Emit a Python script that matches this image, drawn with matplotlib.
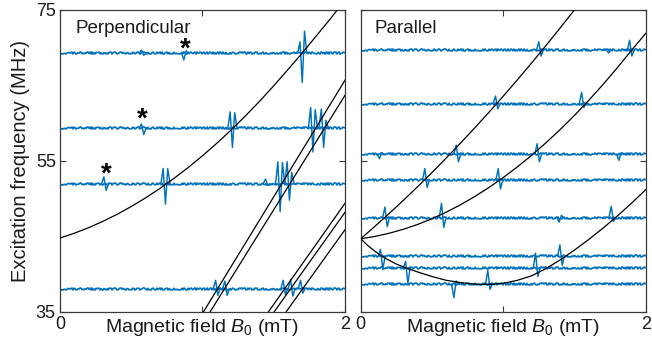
import matplotlib
matplotlib.use('Agg')
import matplotlib.pyplot as plt

plt.rcParams['font.family'] = ['Liberation Sans', 'DejaVu Sans']
plt.rcParams['mathtext.fontset'] = 'custom'
plt.rcParams['mathtext.it'] = 'Liberation Sans:italic'
plt.rcParams['mathtext.rm'] = 'Liberation Sans'

# ---------------- data ----------------
x_ticks = [0, 1, 2]
x_ticklabels = ['0', '', '2']
y_ticks = [35, 55, 75]
y_ticklabels = ['35', '55', '75']

# Perpendicular panel: trace baselines (MHz) and resonances (B0, excursions in MHz)
perp_levels = [69.3, 59.4, 52.0, 38.1]
perp_res = [
    [(0.58, [0.4, -0.3]), (0.877, [-0.9, 0.3]), (1.70, [1.5, -3.9, 2.9])],
    [(0.58, [0.5, -0.9]), (1.21, [2.1, -2.6, 2.0]), (1.775, [2.7, -3.2, 2.4]), (1.85, [2.5, -2.6, 1.0])],
    [(0.316, [0.9, -0.9]), (0.74, [2.0, -2.7, 2.0]), (1.45, [0.6, -0.2]), (1.545, [2.9, -3.7, 2.8]), (1.61, [2.9, -2.2, 1.5])],
    [(1.10, [1.1, -0.9]), (1.165, [1.0, -0.9]), (1.574, [1.1, -0.8]), (1.626, [1.2, -1.0]), (1.696, [1.1, -0.6])],
]
star_B = [0.877, 0.58, 0.323]
star_f = [70.4, 61.1, 53.8]

# Perpendicular panel theory lines
perp_curve_B = [0.0, 0.1, 0.2, 0.3, 0.4, 0.5, 0.6, 0.7, 0.8, 0.9, 1.0,
                1.1, 1.2, 1.3, 1.4, 1.5, 1.6, 1.7, 1.8, 1.9, 2.0]
perp_curve_f = [44.8, 45.43, 46.16, 47.00, 47.93, 48.97, 50.11, 51.35, 52.70, 54.14, 55.69,
                57.34, 59.09, 60.95, 62.90, 64.96, 67.12, 69.3, 71.6, 73.9, 76.3]
perp_lines_B = [[1.006, 2.0], [1.053, 2.0], [1.462, 2.0], [1.502, 2.0], [1.586, 2.0]]
perp_lines_f = [[35.0, 65.7], [35.0, 63.7], [35.0, 49.4], [35.0, 48.2], [35.0, 45.9]]

# Parallel panel
par_levels = [69.7, 62.6, 55.9, 52.5, 47.5, 42.4, 40.8, 38.7]
par_res = [
    [(1.258, [1.1, -0.8]), (1.74, [-0.4]), (1.895, [1.3, -0.8])],
    [(0.954, [1.0, -0.7]), (1.558, [1.5, -0.5])],
    [(0.14, [-0.6, 0.2]), (0.678, [1.2, -1.0]), (1.246, [1.4, -1.0]), (1.82, [-0.8, 0.2])],
    [(0.458, [1.5, -1.0]), (0.973, [1.5, -1.2])],
    [(0.178, [1.4, -1.2]), (0.575, [1.9, -1.3]), (1.40, [-0.6, 0.3]), (1.766, [1.5, -0.5])],
    [(0.147, [0.9, -1.8]), (1.406, [1.5, -1.2])],
    [(0.323, [0.9, -2.0]), (1.235, [2.0, -1.1])],
    [(0.662, [-1.8, 0.4]), (0.90, [1.8, -0.7])],
]
par_curveA_B = [0.0, 0.1, 0.2, 0.3, 0.4, 0.5, 0.6, 0.7, 0.8, 0.9, 1.0, 1.1, 1.2, 1.3, 1.4, 1.5, 1.6]
par_curveA_f = [44.7, 46.35, 48.05, 49.80, 51.61, 53.47, 55.39, 57.36, 59.38, 61.45, 63.58,
                65.76, 68.0, 70.29, 72.63, 75.02, 77.47]
par_curveB_B = [0.0, 0.1, 0.2, 0.3, 0.4, 0.5, 0.6, 0.7, 0.8, 0.9, 1.0,
                1.1, 1.2, 1.3, 1.4, 1.5, 1.6, 1.7, 1.8, 1.9, 2.0]
par_curveB_f = [44.7, 45.01, 45.43, 45.96, 46.60, 47.35, 48.22, 49.20, 50.29, 51.49, 52.80,
                54.23, 55.76, 57.41, 59.17, 61.04, 63.03, 65.12, 67.33, 69.65, 71.9]
par_curveC_B = [0.0, 0.05, 0.1, 0.147, 0.2, 0.25, 0.323, 0.4, 0.5, 0.6, 0.7, 0.8, 0.9, 1.0,
                1.1, 1.2, 1.3, 1.4, 1.5, 1.6, 1.7, 1.8, 1.9, 2.0]
par_curveC_f = [44.7, 43.8, 43.05, 42.4, 41.85, 41.35, 40.8, 40.3, 39.7, 39.2, 38.9, 38.7, 38.65, 38.8,
                39.2, 39.8, 40.75, 41.9, 43.2, 44.6, 46.1, 47.7, 49.4, 51.2]

# ---------------- styling ----------------
BLUE = '#0072BD'
FRAME = '#3a3a3a'
STEP = 0.016


def resonance_path(level, b, exc):
    n = len(exc)
    start = b - (n + 1) / 2 * STEP
    xs, ys = [start], [level]
    for i, e in enumerate(exc):
        xs.append(start + (i + 1) * STEP)
        ys.append(level + e)
    xs.append(start + (n + 1) * STEP)
    ys.append(level)
    return xs, ys


fig = plt.figure(figsize=(6.52, 3.48), dpi=100)
W, H = 652, 348
axL = fig.add_axes([60 / W, (H - 312) / H, 285 / W, 302 / H])
axR = fig.add_axes([360.7 / W, (H - 312) / H, 285 / W, 302 / H])


def style(ax, show_y):
    ax.set_xlim(0, 2)
    ax.set_ylim(35, 75)
    ax.set_xticks(x_ticks)
    ax.set_xticklabels(x_ticklabels)
    ax.set_yticks(y_ticks)
    ax.set_yticklabels(y_ticklabels if show_y else [])
    ax.tick_params(direction='in', top=True, right=True, length=4, width=0.8,
                   color=FRAME, labelcolor='#1a1a1a', labelsize=13, pad=3)
    for s in ax.spines.values():
        s.set_color(FRAME)
        s.set_linewidth(0.9)
    ax.set_xlabel(r'Magnetic field $B_{\mathrm{0}}$ (mT)', fontsize=14, color='#1a1a1a')
    ax.xaxis.set_label_coords(0.5, -0.018)


def draw_traces(ax, levels, res):
    for lev, r in zip(levels, res):
        ln, = ax.plot([0.0, 2.0], [lev, lev], color=BLUE, lw=1.25, zorder=2)
        ln.set_sketch_params(scale=1.0, length=2.2, randomness=3.0)
        for b, exc in r:
            xs, ys = resonance_path(lev, b, exc)
            ax.plot(xs, ys, color=BLUE, lw=1.05, zorder=2)


style(axL, True)
style(axR, False)
axL.set_ylabel('Excitation frequency (MHz)', fontsize=14.5, color='#1a1a1a', labelpad=4)

draw_traces(axL, perp_levels, perp_res)
draw_traces(axR, par_levels, par_res)

kw = dict(color='black', lw=0.9, zorder=3)
axL.plot(perp_curve_B, perp_curve_f, **kw)
for bx, fy in zip(perp_lines_B, perp_lines_f):
    axL.plot(bx, fy, **kw)
axR.plot(par_curveA_B, par_curveA_f, **kw)
axR.plot(par_curveB_B, par_curveB_f, **kw)
axR.plot(par_curveC_B, par_curveC_f, **kw)

for b, f in zip(star_B, star_f):
    axL.annotate('*', xy=(b, f), xytext=(0, -8.5), textcoords='offset points',
                 ha='center', va='baseline', fontsize=20, fontweight='bold', color='black')

axL.text(0.053, 0.923, 'Perpendicular', transform=axL.transAxes, fontsize=13.5,
         va='baseline', ha='left', color='#1a1a1a')
axR.text(0.05, 0.923, 'Parallel', transform=axR.transAxes, fontsize=13.5,
         va='baseline', ha='left', color='#1a1a1a')

fig.savefig('out.png', dpi=100)
